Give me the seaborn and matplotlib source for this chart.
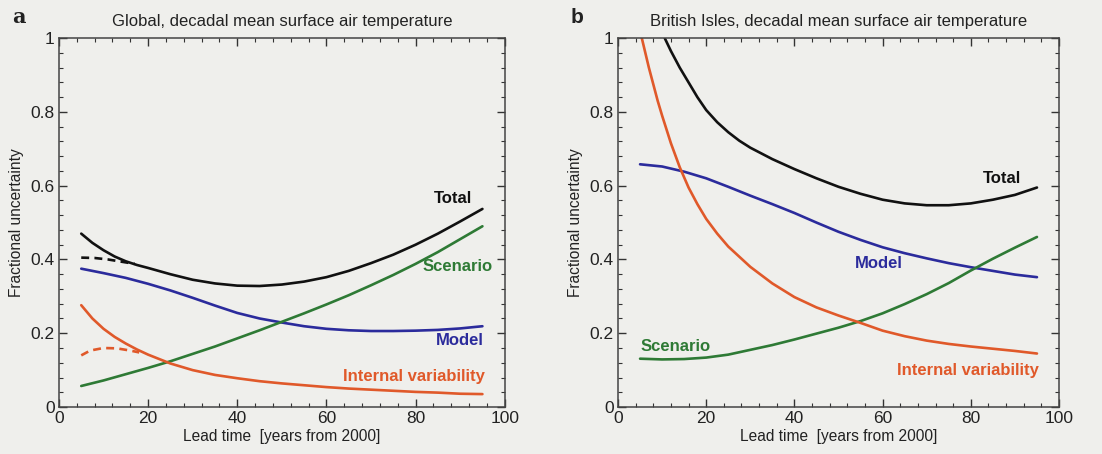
import matplotlib
matplotlib.use("Agg")
import matplotlib.pyplot as plt
import numpy as np
import pandas as pd
import seaborn as sns
from matplotlib.ticker import MultipleLocator, FuncFormatter

# ---- panel a : global ----
xa = [5, 10, 15, 20, 25, 30, 35, 40, 45, 50, 55, 60, 65, 70, 75, 80, 85, 90, 95]
xa_fine = [5, 7.5, 10, 12.5, 15, 17.5, 20, 25, 30, 35, 40, 45, 50, 55, 60, 65, 70, 75, 80, 85, 90, 95]
total_a = [0.470, 0.445, 0.425, 0.408, 0.395, 0.385, 0.377, 0.360, 0.345, 0.335, 0.329, 0.328, 0.332, 0.340, 0.352, 0.369, 0.390, 0.413, 0.440, 0.470, 0.503, 0.537]
model_a = [0.375, 0.363, 0.350, 0.334, 0.316, 0.296, 0.275, 0.255, 0.240, 0.229, 0.219, 0.212, 0.208, 0.206, 0.206, 0.207, 0.209, 0.213, 0.219]
scen_a = [0.057, 0.072, 0.089, 0.106, 0.124, 0.144, 0.164, 0.186, 0.208, 0.231, 0.254, 0.278, 0.303, 0.330, 0.358, 0.388, 0.420, 0.455, 0.490]
intv_a = [0.276, 0.240, 0.212, 0.190, 0.172, 0.156, 0.142, 0.118, 0.100, 0.087, 0.078, 0.070, 0.064, 0.059, 0.054, 0.050, 0.047, 0.044, 0.041, 0.039, 0.036, 0.035]
x_dash_tot = [5, 8, 11, 14, 17]
dash_tot = [0.405, 0.404, 0.400, 0.394, 0.388]
x_dash_int = [5, 7, 10, 13, 16, 18]
dash_int = [0.140, 0.153, 0.160, 0.159, 0.153, 0.148]

# ---- panel b : British Isles ----
xb = [5, 10, 15, 20, 25, 30, 35, 40, 45, 50, 55, 60, 65, 70, 75, 80, 85, 90, 95]
model_b = [0.658, 0.652, 0.638, 0.620, 0.597, 0.573, 0.550, 0.526, 0.500, 0.475, 0.453, 0.433, 0.417, 0.403, 0.390, 0.379, 0.369, 0.359, 0.352]
scen_b = [0.131, 0.129, 0.130, 0.134, 0.142, 0.155, 0.168, 0.183, 0.199, 0.215, 0.233, 0.254, 0.279, 0.306, 0.336, 0.370, 0.402, 0.432, 0.461]
xb_tot = [10.6, 12, 14, 16, 18, 20, 22.5, 25, 27.5, 30, 35, 40, 45, 50, 55, 60, 65, 70, 75, 80, 85, 90, 95]
total_b = [1.0, 0.965, 0.92, 0.88, 0.84, 0.805, 0.772, 0.745, 0.722, 0.703, 0.672, 0.645, 0.620, 0.597, 0.578, 0.562, 0.552, 0.547, 0.547, 0.552, 0.562, 0.575, 0.595]
xb_int = [5, 6, 7, 8, 9, 10, 12, 14, 16, 18, 20, 22.5, 25, 30, 35, 40, 45, 50, 55, 60, 65, 70, 75, 80, 85, 90, 95]
intv_b = [1.02, 0.97, 0.92, 0.875, 0.83, 0.79, 0.715, 0.65, 0.595, 0.55, 0.51, 0.47, 0.435, 0.38, 0.335, 0.298, 0.270, 0.248, 0.228, 0.207, 0.192, 0.180, 0.171, 0.164, 0.158, 0.152, 0.145]

colors = {"Total": "#111111", "Model": "#2b2b9c", "Scenario": "#2e7a35", "Internal variability": "#e0592a"}
bg = "#efefec"

sns.set_theme(style="ticks")
plt.rcParams["font.family"] = ["Liberation Sans", "DejaVu Sans"]

def long_df(parts):
    frames = []
    for name, x, y in parts:
        frames.append(pd.DataFrame({"lead": x, "frac": y, "series": name}))
    return pd.concat(frames, ignore_index=True)

df_a = long_df([("Total", xa_fine, total_a), ("Model", xa, model_a),
                ("Scenario", xa, scen_a), ("Internal variability", xa_fine, intv_a)])
df_b = long_df([("Total", xb_tot, total_b), ("Model", xb, model_b),
                ("Scenario", xb, scen_b), ("Internal variability", xb_int, intv_b)])

fig = plt.figure(figsize=(11.02, 4.54), dpi=100, facecolor=bg)
ax1 = fig.add_axes([0.0535, 0.1035, 0.4045, 0.8125])
ax2 = fig.add_axes([0.5608, 0.1035, 0.4002, 0.8125])

for ax, df in [(ax1, df_a), (ax2, df_b)]:
    ax.set_facecolor(bg)
    sns.lineplot(data=df, x="lead", y="frac", hue="series", palette=colors,
                 linewidth=1.9, legend=False, ax=ax, sort=False, estimator=None)
    ax.set_xlim(0, 100)
    ax.set_ylim(0, 1)
    ax.xaxis.set_major_locator(MultipleLocator(20))
    ax.xaxis.set_minor_locator(MultipleLocator(4))
    ax.yaxis.set_major_locator(MultipleLocator(0.2))
    ax.yaxis.set_minor_locator(MultipleLocator(0.04))
    ax.yaxis.set_major_formatter(FuncFormatter(lambda v, p: "%g" % round(v, 2)))
    ax.tick_params(which="both", direction="in", top=True, right=True, colors="#333333",
                   labelsize=12.5, labelcolor="#222222")
    ax.tick_params(which="major", length=6, width=1.0, pad=3)
    ax.tick_params(which="minor", length=3, width=0.8)
    for s in ax.spines.values():
        s.set_color("#444444")
        s.set_linewidth(1.1)
    ax.set_xlabel("Lead time  [years from 2000]", fontsize=11.2, color="#222222", labelpad=2)
    ax.set_ylabel("Fractional uncertainty", fontsize=11.2, color="#222222", labelpad=5)

# dashed early-lead-time curves in panel a
ax1.plot(x_dash_tot, dash_tot, color=colors["Total"], lw=1.9, ls=(0, (3, 2)))
ax1.plot(x_dash_int, dash_int, color=colors["Internal variability"], lw=1.9, ls=(0, (3, 2)))

ax1.set_title("Global, decadal mean surface air temperature", fontsize=12, color="#222222", pad=9)
ax2.set_title("British Isles, decadal mean surface air temperature", fontsize=12, color="#222222", pad=9)

lab = dict(fontsize=12, fontweight="bold")
ax1.text(92.7, 0.565, "Total", color=colors["Total"], ha="right", va="center", **lab)
ax1.text(97.3, 0.38, "Scenario", color=colors["Scenario"], ha="right", va="center", **lab)
ax1.text(95.4, 0.18, "Model", color=colors["Model"], ha="right", va="center", **lab)
ax1.text(95.5, 0.083, "Internal variability", color=colors["Internal variability"], ha="right", va="center", **lab)

ax2.text(91.5, 0.62, "Total", color=colors["Total"], ha="right", va="center", **lab)
ax2.text(59.2, 0.388, "Model", color=colors["Model"], ha="center", va="center", **lab)
ax2.text(5.1, 0.164, "Scenario", color=colors["Scenario"], ha="left", va="center", **lab)
ax2.text(95.5, 0.10, "Internal variability", color=colors["Internal variability"], ha="right", va="center", **lab)

fig.text(0.011, 0.962, "a", fontsize=15, fontweight="bold", family="DejaVu Serif", color="#222222", va="center")
fig.text(0.518, 0.962, "b", fontsize=15, fontweight="bold", color="#222222", va="center")

fig.savefig("out.png", dpi=100, facecolor=bg)
